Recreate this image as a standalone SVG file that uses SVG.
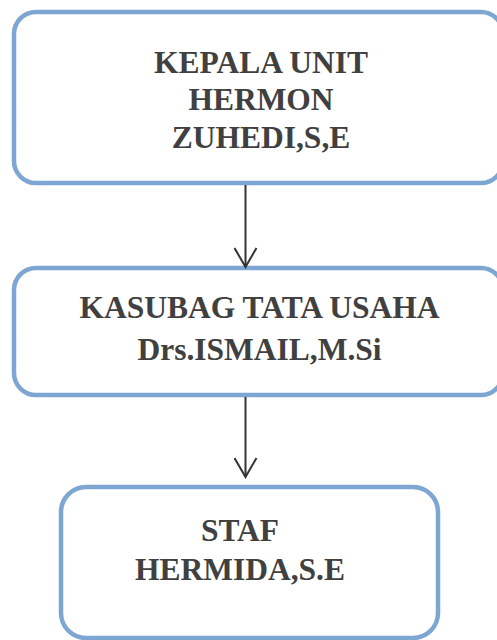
<svg xmlns="http://www.w3.org/2000/svg" width="497" height="640" viewBox="0 0 497 640">
<defs>
<style>
.box{fill:#ffffff;stroke:#7ea6d3;stroke-width:4.5}
.t{font-family:"Liberation Serif","Times New Roman",serif;font-weight:bold;font-size:31.5px;fill:#404040;text-anchor:middle}
.c{stroke:#333333;stroke-width:2;fill:none}
</style>
<marker id="arr" viewBox="0 0 22 24" refX="20" refY="12" markerWidth="22" markerHeight="24" markerUnits="userSpaceOnUse" orient="auto">
<path d="M1 1 L20 12 L1 23" fill="none" stroke="#333333" stroke-width="2"/>
</marker>
</defs>
<rect width="497" height="640" fill="#ffffff"/>
<g id="node-kepala">
<rect class="box" x="14" y="12" width="489" height="171" rx="22" ry="22"/>
<text class="t" x="261" y="73">KEPALA UNIT</text>
<text class="t" x="261" y="110">HERMON</text>
<text class="t" x="261" y="148">ZUHEDI,S,E</text>
</g>
<g id="node-kasubag">
<rect class="box" x="14" y="268" width="489" height="127" rx="22" ry="22"/>
<text class="t" x="259.5" y="318">KASUBAG TATA USAHA</text>
<text class="t" x="259.5" y="360">Drs.ISMAIL,M.Si</text>
</g>
<g id="node-staf">
<rect class="box" x="61" y="487" width="377" height="151" rx="25" ry="25"/>
<text class="t" x="240" y="541">STAF</text>
<text class="t" x="240" y="580">HERMIDA,S.E</text>
</g>
<g id="connectors">
<line class="c" x1="245.5" y1="185" x2="245.5" y2="267" marker-end="url(#arr)"/>
<line class="c" x1="245.5" y1="397" x2="245.5" y2="477" marker-end="url(#arr)"/>
</g>
</svg>
